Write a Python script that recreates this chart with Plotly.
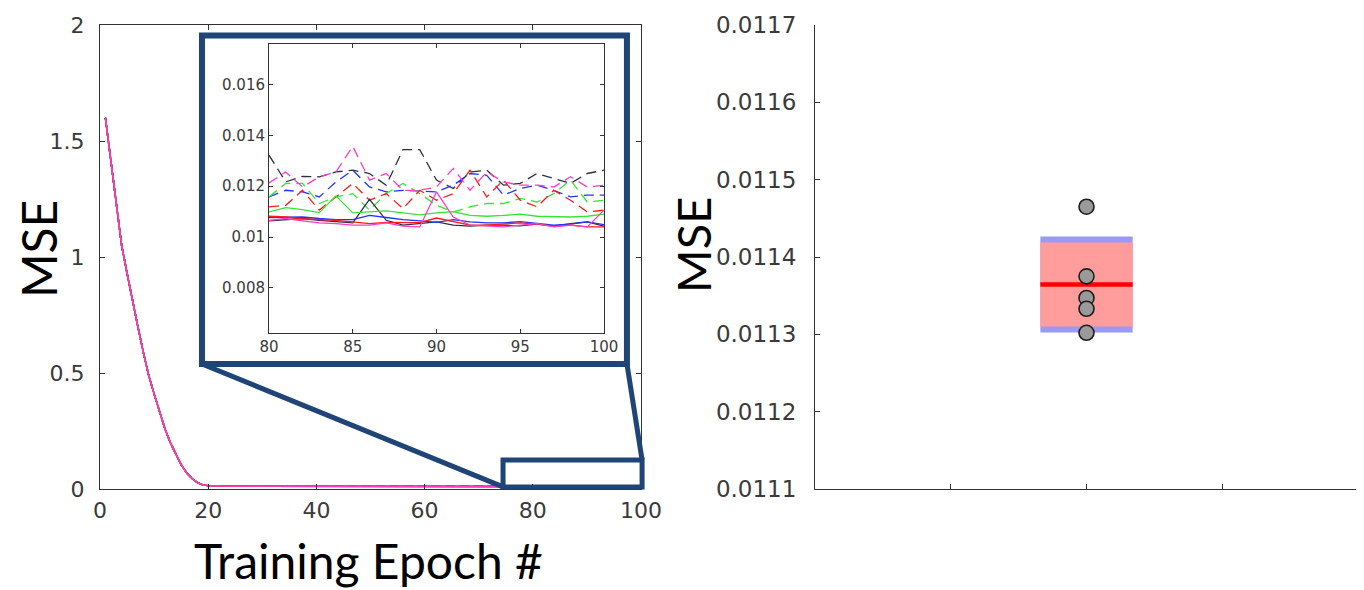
import numpy as np
import plotly.graph_objects as go

# ---------------- data ----------------
early_epochs = list(range(1, 23))
early_mse = [1.60, 1.41, 1.23, 1.05, 0.93, 0.81, 0.70, 0.59, 0.49, 0.41, 0.33,
             0.26, 0.20, 0.15, 0.105, 0.07, 0.045, 0.028, 0.018, 0.014, 0.013, 0.0125]

late_epochs = list(range(80, 101))

black_dashed = [0.01322, 0.01217, 0.01239, 0.01237, 0.01256, 0.01263, 0.01250, 0.01204, 0.01344, 0.01344, 0.01224,
                0.01191, 0.01256, 0.01263, 0.01204, 0.01211, 0.01250, 0.01230, 0.01211, 0.01250, 0.01263]
magenta_dashed = [0.01213, 0.01256, 0.01197, 0.01237, 0.01256, 0.01357, 0.01224, 0.01250, 0.01184, 0.01184, 0.01197,
                  0.01270, 0.01184, 0.01256, 0.01217, 0.01204, 0.01204, 0.01197, 0.01237, 0.01197, 0.01204]
blue_dashed = [0.01158, 0.01184, 0.01178, 0.01158, 0.01217, 0.01263, 0.01197, 0.01178, 0.01184, 0.01182, 0.01178,
               0.01204, 0.01250, 0.01243, 0.01165, 0.01191, 0.01204, 0.01184, 0.01158, 0.01165, 0.01165]
red_dashed = [0.01119, 0.01125, 0.01184, 0.01106, 0.01158, 0.01211, 0.01145, 0.01171, 0.01112, 0.01184, 0.01145,
              0.01171, 0.01263, 0.01158, 0.01224, 0.01145, 0.01119, 0.01184, 0.01145, 0.01099, 0.01106]
green_dashed = [0.01158, 0.01211, 0.01211, 0.01132, 0.01158, 0.01171, 0.01106, 0.01171, 0.01211, 0.01171, 0.01125,
                0.01099, 0.01119, 0.01132, 0.01132, 0.01152, 0.01138, 0.01171, 0.01224, 0.01138, 0.01145]
green_solid = [0.01099, 0.01116, 0.01108, 0.01096, 0.01162, 0.01095, 0.01099, 0.01103, 0.01095, 0.01087, 0.01095,
               0.01100, 0.01085, 0.01082, 0.01085, 0.01090, 0.01082, 0.01081, 0.01079, 0.01082, 0.01090]
blue_solid = [0.01077, 0.01077, 0.01079, 0.01073, 0.01069, 0.01069, 0.01085, 0.01077, 0.01069, 0.01064, 0.01058,
              0.01069, 0.01060, 0.01056, 0.01056, 0.01061, 0.01053, 0.01047, 0.01051, 0.01060, 0.01049]
red_solid = [0.01082, 0.01079, 0.01072, 0.01069, 0.01066, 0.01060, 0.01053, 0.01058, 0.01056, 0.01057, 0.01075,
             0.01060, 0.01047, 0.01047, 0.01051, 0.01056, 0.01051, 0.01043, 0.01047, 0.01040, 0.01040]
black_solid = [0.01064, 0.01069, 0.01073, 0.01066, 0.01060, 0.01056, 0.01148, 0.01066, 0.01047, 0.01053, 0.01060,
               0.01047, 0.01043, 0.01047, 0.01047, 0.01044, 0.01051, 0.01043, 0.01053, 0.01060, 0.01043]
magenta_solid = [0.01066, 0.01073, 0.01064, 0.01056, 0.01053, 0.01047, 0.01047, 0.01056, 0.01043, 0.01040, 0.01178,
                 0.01079, 0.01047, 0.01043, 0.01040, 0.01047, 0.01053, 0.01040, 0.01047, 0.01040, 0.01106]

final_mse = [0.011465, 0.011375, 0.011347, 0.011333, 0.011302]

main_xticks = [0, 20, 40, 60, 80, 100]
main_yticks = [0, 0.5, 1, 1.5, 2]
main_yticklabels = ["0", "0.5", "1", "1.5", "2"]
inset_xticks = [80, 85, 90, 95, 100]
inset_yticks = [0.008, 0.010, 0.012, 0.014, 0.016]
inset_yticklabels = ["0.008", "0.01", "0.012", "0.014", "0.016"]
right_yticks = [0.0111, 0.0112, 0.0113, 0.0114, 0.0115, 0.0116, 0.0117]
right_yticklabels = ["0.0111", "0.0112", "0.0113", "0.0114", "0.0115", "0.0116", "0.0117"]

# ---------------- styling ----------------
PAGE_OFF = 8                       # default body margin of the written page
W, H = 1364 - PAGE_OFF, 590 - PAGE_OFF
C = {"black": "#2d3040", "blue": "#2233ff", "green": "#33e633", "red": "#ff1a1a", "magenta": "#ff3cc4"}
TICKCOL = "#3a3a3a"
AXCOL = "#333333"
FRAME = "#1f4476"

series = [
    ("black", "dash", black_dashed), ("blue", "dash", blue_dashed), ("green", "dash", green_dashed),
    ("red", "dash", red_dashed), ("magenta", "dash", magenta_dashed),
    ("black", "solid", black_solid), ("blue", "solid", blue_solid), ("green", "solid", green_solid),
    ("red", "solid", red_solid), ("magenta", "solid", magenta_solid),
]

def px(x):
    return (x - PAGE_OFF) / W

def py(y):
    return 1 - (y - PAGE_OFF) / H

main_dx = [px(100), px(641)]
main_dy = [py(489), py(25)]
inset_dx = [px(269), px(604)]
inset_dy = [py(333), py(44)]
right_dx = [px(815), px(1358)]

fig = go.Figure()

for col, style, late in series:
    dash = "9px,5px" if style == "dash" else "solid"
    fig.add_trace(go.Scatter(x=early_epochs + late_epochs, y=early_mse + late,
                             mode="lines", line=dict(color=C[col], width=1.5, dash=dash),
                             xaxis="x", yaxis="y", showlegend=False, hoverinfo="skip"))
for col, style, late in series:
    dash = "10px,6px" if style == "dash" else "solid"
    fig.add_trace(go.Scatter(x=late_epochs, y=late, mode="lines",
                             line=dict(color=C[col], width=1.3, dash=dash),
                             xaxis="x2", yaxis="y2", showlegend=False, hoverinfo="skip"))

# notBoxPlot-style summary
vals = np.array(final_mse)
mean = vals.mean()
sd = vals.std(ddof=1)
sem = sd / np.sqrt(len(vals))
bx, bw = 2, 0.34

fig.add_trace(go.Scatter(x=[bx - bw, bx + bw, bx + bw, bx - bw, bx - bw],
                         y=[mean - sd, mean - sd, mean + sd, mean + sd, mean - sd],
                         fill="toself", fillcolor="#9a9af6", line=dict(width=0),
                         mode="lines", xaxis="x3", yaxis="y3", showlegend=False, hoverinfo="skip"))
fig.add_trace(go.Scatter(x=[bx - bw, bx + bw, bx + bw, bx - bw, bx - bw],
                         y=[mean - 1.96 * sem] * 2 + [mean + 1.96 * sem] * 2 + [mean - 1.96 * sem],
                         fill="toself", fillcolor="#ff9c9c", line=dict(width=0),
                         mode="lines", xaxis="x3", yaxis="y3", showlegend=False, hoverinfo="skip"))
fig.add_trace(go.Scatter(x=[bx - bw, bx + bw], y=[mean, mean], mode="lines",
                         line=dict(color="#ff0000", width=4.5),
                         xaxis="x3", yaxis="y3", showlegend=False, hoverinfo="skip"))
fig.add_trace(go.Scatter(x=[bx] * len(final_mse), y=final_mse, mode="markers",
                         marker=dict(size=15, color="#9a9a9a", line=dict(color="#1e1e1e", width=1.6)),
                         xaxis="x3", yaxis="y3", showlegend=False, hoverinfo="skip"))

tickfont = dict(family="DejaVu Sans", size=22, color=TICKCOL)
common = dict(showgrid=False, zeroline=False, showline=True, linecolor=AXCOL, linewidth=1,
              ticks="inside", tickcolor=AXCOL, automargin=False)

fig.update_layout(
    width=W, height=H, margin=dict(l=0, r=0, t=0, b=0, autoexpand=False),
    paper_bgcolor="white", plot_bgcolor="white",
    xaxis=dict(domain=main_dx, range=[0, 100], tickvals=main_xticks, ticklen=5, mirror="ticks",
               tickfont=tickfont, anchor="y", ticklabelstandoff=2, **common),
    yaxis=dict(domain=main_dy, range=[0, 2], tickvals=main_yticks, ticktext=main_yticklabels, ticklen=5,
               mirror="ticks", tickfont=tickfont, anchor="x", ticklabelstandoff=10, **common),
    xaxis2=dict(domain=inset_dx, range=[80, 100], tickvals=inset_xticks, ticklen=4, mirror="ticks",
                tickfont=dict(family="DejaVu Sans", size=15, color=TICKCOL), anchor="y2", **common),
    yaxis2=dict(domain=inset_dy, range=[0.00623, 0.01759], tickvals=inset_yticks, ticktext=inset_yticklabels,
                ticklen=4, mirror="ticks", tickfont=dict(family="DejaVu Sans", size=15, color=TICKCOL),
                anchor="x2", **common),
    xaxis3=dict(domain=right_dx, range=[0, 4], tickvals=[1, 2, 3], showticklabels=False, ticklen=5,
                anchor="y3", **common),
    yaxis3=dict(domain=main_dy, range=[0.0111, 0.0117], tickvals=right_yticks, ticktext=right_yticklabels,
                ticklen=5, tickfont=dict(family="DejaVu Sans", size=23, color=TICKCOL), anchor="x3",
                ticklabelstandoff=13, **common),
)

# overlay (zoom indicator) expressed in main-axis data coordinates
def mx(x):
    return main_dx[0] + x / 100 * (main_dx[1] - main_dx[0])

def my(y):
    return main_dy[0] + y / 2 * (main_dy[1] - main_dy[0])

inset_frame = (18.85, 97.4, 0.539, 1.955)
zoom_box = (74.5, 100.2, 0.009, 0.125)

shapes = [
    dict(type="rect", xref="paper", yref="paper", x0=mx(inset_frame[0]), x1=mx(inset_frame[1]),
         y0=my(inset_frame[2]), y1=my(inset_frame[3]), line=dict(color=FRAME, width=6), layer="above"),
    dict(type="rect", xref="paper", yref="paper", x0=mx(zoom_box[0]), x1=mx(zoom_box[1]),
         y0=my(zoom_box[2]), y1=my(zoom_box[3]), line=dict(color=FRAME, width=5), layer="above"),
    dict(type="line", xref="paper", yref="paper", x0=mx(inset_frame[0]), y0=my(inset_frame[2]),
         x1=mx(zoom_box[0]), y1=my(zoom_box[2]), line=dict(color=FRAME, width=5), layer="above"),
    dict(type="line", xref="paper", yref="paper", x0=mx(inset_frame[1]), y0=my(inset_frame[2]),
         x1=mx(zoom_box[1]), y1=my(zoom_box[3]), line=dict(color=FRAME, width=5), layer="above"),
]
fig.update_layout(shapes=shapes)

fig.add_annotation(text="Training Epoch #", xref="paper", yref="paper", x=px(368), y=py(560),
                   xanchor="center", yanchor="middle", showarrow=False,
                   font=dict(family="Lato", size=48, color="black"))
fig.add_annotation(text="MSE", xref="paper", yref="paper", x=px(38), y=py(249), textangle=-90,
                   xanchor="center", yanchor="middle", showarrow=False,
                   font=dict(family="Lato", size=48, color="black"))
fig.add_annotation(text="MSE", xref="paper", yref="paper", x=px(693), y=py(245), textangle=-90,
                   xanchor="center", yanchor="middle", showarrow=False,
                   font=dict(family="Lato", size=47, color="black"))

fig.write_html("out.html")
